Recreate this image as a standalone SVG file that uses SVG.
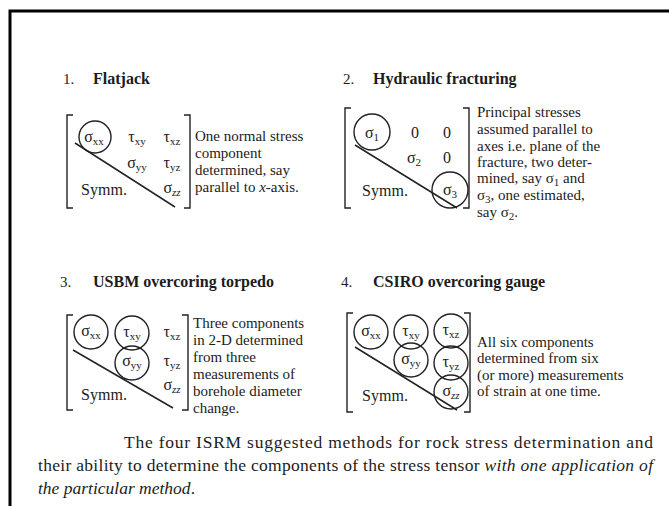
<svg xmlns="http://www.w3.org/2000/svg" width="669" height="506" viewBox="0 0 669 506">
<style>
text{font-family:"Liberation Serif","Times New Roman",serif;fill:#1c1c1c}
.h{font-size:16px;font-weight:bold}
.n{font-size:15px}
.m{font-size:16px;text-anchor:middle}
.sub{font-size:11px}
.d{font-size:15px}
.cap{font-size:17.5px}
.it{font-style:italic}
.br{fill:none;stroke:#222;stroke-width:1.4}
.diag{stroke:#222;stroke-width:1.5}
.c{fill:none;stroke:#222;stroke-width:1.4}
</style>
<rect x="0" y="0" width="669" height="506" fill="#fff"/>
<rect x="10" y="11" width="700" height="560" fill="none" stroke="#000" stroke-width="3"/>

<g id="panel1">
<text x="63" y="84" class="n">1.</text>
<text x="93" y="84" class="h">Flatjack</text>
<path class="br" d="M73,115 H67 V208 H73"/>
<path class="br" d="M184,115 H190 V208 H184"/>
<line class="diag" x1="75" y1="143" x2="175" y2="207"/>
<circle class="c" cx="95" cy="137" r="16"/>
<text x="94" y="142" class="m">σ<tspan class="sub" dy="3">xx</tspan></text>
<text x="137" y="142" class="m">τ<tspan class="sub" dy="3">xy</tspan></text>
<text x="172" y="142" class="m">τ<tspan class="sub" dy="3">xz</tspan></text>
<text x="137" y="168" class="m">σ<tspan class="sub" dy="3">yy</tspan></text>
<text x="172" y="168" class="m">τ<tspan class="sub" dy="3">yz</tspan></text>
<text x="104" y="195" class="m">Symm.</text>
<text x="172" y="193" class="m">σ<tspan class="sub it" dy="3">zz</tspan></text>
<text class="d"><tspan x="195" y="141">One normal stress</tspan><tspan x="195" y="158">component</tspan><tspan x="195" y="175">determined, say</tspan><tspan x="195" y="192">parallel to <tspan class="it">x</tspan>-axis.</tspan></text>
</g>

<g id="panel2">
<text x="343" y="84" class="n">2.</text>
<text x="373" y="84" class="h">Hydraulic fracturing</text>
<path class="br" d="M351,108 H345 V208 H351"/>
<path class="br" d="M463,108 H469 V208 H463"/>
<line class="diag" x1="355" y1="145" x2="457" y2="208"/>
<circle class="c" cx="372" cy="132" r="18"/>
<circle class="c" cx="450" cy="190" r="18"/>
<text x="372" y="138" class="m">σ<tspan class="sub" dy="3">1</tspan></text>
<text x="415" y="138" class="m">0</text>
<text x="447" y="138" class="m">0</text>
<text x="414" y="163" class="m">σ<tspan class="sub" dy="3">2</tspan></text>
<text x="447" y="163" class="m">0</text>
<text x="385" y="196" class="m">Symm.</text>
<text x="450" y="195" class="m">σ<tspan class="sub" dy="3">3</tspan></text>
<text class="d"><tspan x="477" y="117">Principal stresses</tspan><tspan x="477" y="134">assumed parallel to</tspan><tspan x="477" y="151">axes i.e. plane of the</tspan><tspan x="477" y="167">fracture, two deter-</tspan><tspan x="477" y="183">mined, say σ<tspan class="sub" dy="3">1</tspan><tspan dy="-3"> and</tspan></tspan><tspan x="477" y="200">σ<tspan class="sub" dy="3">3</tspan><tspan dy="-3">, one estimated,</tspan></tspan><tspan x="477" y="217">say σ<tspan class="sub" dy="3">2</tspan><tspan dy="-3">.</tspan></tspan></text>
</g>

<g id="panel3">
<text x="60" y="287" class="n">3.</text>
<text x="93" y="287" class="h">USBM overcoring torpedo</text>
<path class="br" d="M73,315 H67 V410 H73"/>
<path class="br" d="M182,315 H188 V410 H182"/>
<line class="diag" x1="73" y1="350" x2="173" y2="408"/>
<circle class="c" cx="91" cy="332" r="17"/>
<circle class="c" cx="132" cy="333" r="17"/>
<circle class="c" cx="132" cy="363" r="17"/>
<text x="91" y="336" class="m">σ<tspan class="sub" dy="3">xx</tspan></text>
<text x="132" y="337" class="m">τ<tspan class="sub" dy="3">xy</tspan></text>
<text x="172" y="337" class="m">τ<tspan class="sub" dy="3">xz</tspan></text>
<text x="132" y="366" class="m">σ<tspan class="sub" dy="3">yy</tspan></text>
<text x="172" y="366" class="m">τ<tspan class="sub" dy="3">yz</tspan></text>
<text x="104" y="400" class="m">Symm.</text>
<text x="172" y="390" class="m">σ<tspan class="sub it" dy="3">zz</tspan></text>
<text class="d"><tspan x="193" y="328">Three components</tspan><tspan x="193" y="345">in 2-D determined</tspan><tspan x="193" y="362">from three</tspan><tspan x="193" y="379">measurements of</tspan><tspan x="193" y="396">borehole diameter</tspan><tspan x="193" y="413">change.</tspan></text>
</g>

<g id="panel4">
<text x="341" y="287" class="n">4.</text>
<text x="373" y="287" class="h">CSIRO overcoring gauge</text>
<path class="br" d="M353,313 H347 V412 H353"/>
<path class="br" d="M464,313 H470 V412 H464"/>
<line class="diag" x1="355" y1="347" x2="457" y2="410"/>
<circle class="c" cx="371" cy="332" r="17"/>
<circle class="c" cx="411" cy="332" r="17"/>
<circle class="c" cx="451" cy="331" r="17"/>
<circle class="c" cx="411" cy="360" r="17"/>
<circle class="c" cx="451" cy="363" r="17"/>
<circle class="c" cx="451" cy="392" r="17"/>
<text x="371" y="336" class="m">σ<tspan class="sub" dy="3">xx</tspan></text>
<text x="411" y="336" class="m">τ<tspan class="sub" dy="3">xy</tspan></text>
<text x="451" y="335" class="m">τ<tspan class="sub" dy="3">xz</tspan></text>
<text x="411" y="364" class="m">σ<tspan class="sub" dy="3">yy</tspan></text>
<text x="451" y="367" class="m">τ<tspan class="sub" dy="3">yz</tspan></text>
<text x="385" y="401" class="m">Symm.</text>
<text x="451" y="396" class="m">σ<tspan class="sub it" dy="3">zz</tspan></text>
<text class="d"><tspan x="477" y="347">All six components</tspan><tspan x="477" y="363">determined from six</tspan><tspan x="477" y="380">(or more) measurements</tspan><tspan x="477" y="396">of strain at one time.</tspan></text>
</g>

<g id="caption">
<text x="124" y="448" class="cap" textLength="529" lengthAdjust="spacing">The four ISRM suggested methods for rock stress determination and</text>
<text x="38" y="471" class="cap" textLength="615" lengthAdjust="spacing">their ability to determine the components of the stress tensor <tspan class="it">with one application of</tspan></text>
<text x="38" y="494" class="cap"><tspan class="it">the particular method</tspan>.</text>
</g>
</svg>
